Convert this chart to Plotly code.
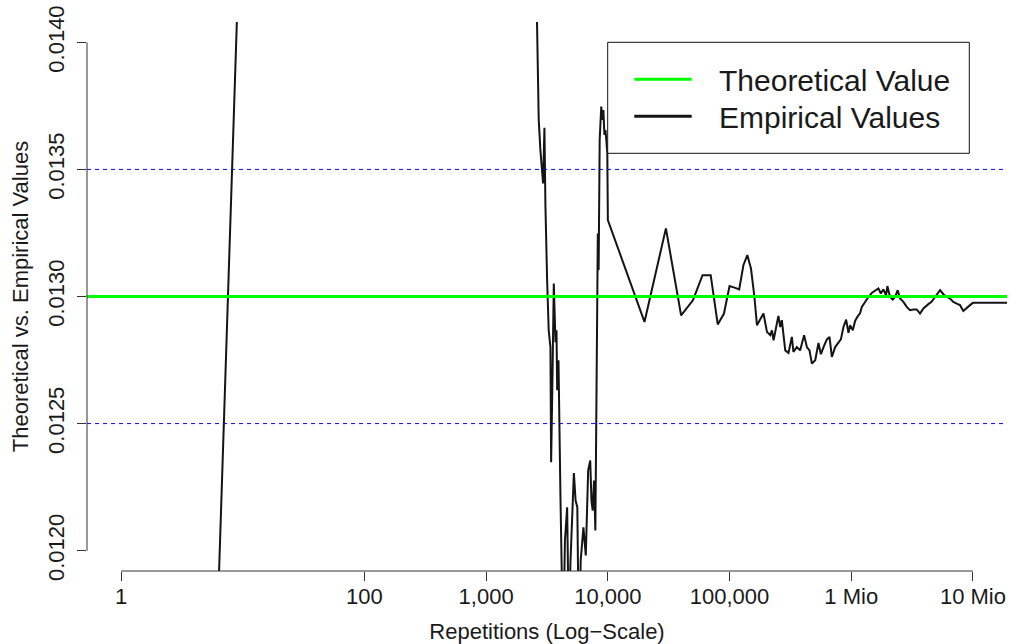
import plotly.graph_objects as go
import math

# ---------------- data ----------------
reps = [1, 100, 200, 500, 1000, 2000, 2500, 2600,
        2704, 2791, 2883, 2938, 3012, 3070, 3170, 3265, 3374, 3419, 3505, 3596,
        3713, 3784, 3834, 3930, 4080, 4292, 4440, 4630, 4775, 4935, 5258, 5432,
        5612, 5789, 5982, 6300, 6587, 6890, 7165, 7333, 7505, 7698, 7895, 8272,
        8402, 8568, 8827, 9006, 9188, 9375, 9568, 9750, 9900,
        10000, 20000, 30000, 40000, 50000, 60000, 70000, 80000, 90000, 100000,
        110000, 120000, 130000, 140000, 150000, 160000, 168000, 190000, 203000,
        216000, 223000, 230000, 252000, 261000, 269000, 287000, 305000, 325000,
        335000, 357000, 380000, 410000, 432000, 454000, 475000, 506000, 538000,
        563000, 600000, 631000, 663000, 693000, 738000, 786000, 822000, 863000,
        908000, 949000, 979000, 1030000, 1076000, 1124000, 1183000, 1222000,
        1300000, 1384000, 1475000, 1571000, 1672000, 1750000, 1838000, 1933000,
        1982000, 2084000, 2193000, 2291000, 2410000, 2518000, 2684000, 2858000,
        3043000, 3243000, 3451000, 3675000, 3917000, 4305000, 4571000, 4884000,
        5370000, 5715000, 6095000, 6486000, 6902000, 7362000, 7834000, 8337000,
        8892000, 9462000, 10000000, 20000000]

empirical = [0.0, 0.0296, 0.0245, 0.0205, 0.0185, 0.0165, 0.0152, 0.01416,
             0.013695, 0.013576, 0.013511, 0.013445, 0.013664, 0.013356, 0.013064,
             0.012867, 0.012801, 0.012348, 0.01267, 0.013051, 0.01282, 0.012867,
             0.012631, 0.012749, 0.01221, 0.0116, 0.01204, 0.012171, 0.0117,
             0.011961, 0.012305, 0.012197, 0.012171, 0.0116, 0.011961, 0.012092,
             0.011981, 0.012316, 0.012355, 0.012197, 0.012158, 0.012276, 0.012079,
             0.013248, 0.013104, 0.013616, 0.013747, 0.013695, 0.013734, 0.013636,
             0.013655, 0.013576, 0.013563,
             0.013301, 0.0129, 0.013268, 0.012926, 0.012985, 0.013084, 0.013084,
             0.01289, 0.012933, 0.013041, 0.013035, 0.013028, 0.013123, 0.013163,
             0.01311, 0.013, 0.012887, 0.012933, 0.012861, 0.012848, 0.012867,
             0.012828, 0.012924, 0.01288, 0.012907, 0.012788, 0.012778, 0.012841,
             0.012782, 0.012801, 0.012788, 0.012848, 0.012801, 0.012788, 0.012736,
             0.012749, 0.012817, 0.012773, 0.012808, 0.012831, 0.012841, 0.012762,
             0.012801, 0.012817, 0.012831, 0.01288, 0.012909, 0.012857, 0.012887,
             0.012867, 0.012904, 0.01292, 0.012935, 0.012959, 0.012979, 0.012998,
             0.013014, 0.013025, 0.013032, 0.013012, 0.013028, 0.013005, 0.013041,
             0.012998, 0.012988, 0.012998, 0.013025, 0.012992, 0.012979, 0.012959,
             0.012946, 0.012949, 0.012949, 0.012933, 0.012953, 0.01297, 0.012979,
             0.012998, 0.013025, 0.013009, 0.012998, 0.012992, 0.012979, 0.012972,
             0.012966, 0.012943, 0.012953, 0.012966, 0.012975, 0.012975]

theoretical_value = 0.013
reference_bands = [0.0125, 0.0135]

x_tick_vals = [1, 100, 1000, 10000, 100000, 1000000, 10000000]
x_tick_text = ["1", "100", "1,000", "10,000", "100,000", "1 Mio", "10 Mio"]
y_tick_vals = [0.0120, 0.0125, 0.0130, 0.0135, 0.0140]
y_tick_text = ["0.0120", "0.0125", "0.0130", "0.0135", "0.0140"]

legend_labels = ["Theoretical Value", "Empirical Values"]
x_title = "Repetitions (Log\u2212Scale)"
y_title = "Theoretical vs. Empirical Values"

# ---------------- figure ----------------
FONT = "Liberation Sans, Arial, Helvetica, sans-serif"
TXT = "#1a1a1a"
xr = [-0.28, 7.28]
yr = [0.01192, 0.01408]

fig = go.Figure()
fig.add_trace(go.Scatter(x=reps, y=empirical, mode="lines",
                         line=dict(color="#141414", width=2),
                         name=legend_labels[1], showlegend=False,
                         hoverinfo="x+y"))

for b in reference_bands:
    fig.add_hline(y=b, line=dict(color="#0000ff", width=1, dash="4px,4px"),
                  layer="above")
fig.add_hline(y=theoretical_value, line=dict(color="#00ff00", width=3),
              layer="above")

def xfrac(v):
    return (math.log10(v) - xr[0]) / (xr[1] - xr[0])

def yfrac(v):
    return (v - yr[0]) / (yr[1] - yr[0])

# R-style axis lines spanning first to last tick only
fig.add_shape(type="line", xref="paper", yref="paper",
              x0=xfrac(x_tick_vals[0]), x1=xfrac(x_tick_vals[-1]), y0=0, y1=0,
              line=dict(color="#333333", width=1), layer="above")
fig.add_shape(type="line", xref="paper", yref="paper",
              x0=0, x1=0, y0=yfrac(y_tick_vals[0]), y1=yfrac(y_tick_vals[-1]),
              line=dict(color="#333333", width=1), layer="above")

# legend box (R style)
W, H = 1011, 644
ML, MR, MT, MB = 87, 4, 22, 73
pw, ph = W - ML - MR, H - MT - MB

def px(x):
    return (x - ML) / pw

def py(y):
    return (H - MB - y) / ph

fig.add_shape(type="rect", xref="paper", yref="paper",
              x0=px(607.7), x1=px(969.3), y0=py(153.3), y1=py(42.3),
              line=dict(color="#111111", width=1), fillcolor="white", layer="above")
legend_colors = ["#00ff00", "#141414"]
legend_rows = [79.3, 116.3]
for lab, col, ry in zip(legend_labels, legend_colors, legend_rows):
    fig.add_shape(type="line", xref="paper", yref="paper",
                  x0=px(634.3), x1=px(691.7), y0=py(ry), y1=py(ry),
                  line=dict(color=col, width=3), layer="above")
    fig.add_annotation(xref="paper", yref="paper", x=px(716.5), y=py(ry + 1),
                       text=lab, showarrow=False, xanchor="left", yanchor="middle",
                       font=dict(family=FONT, size=30, color=TXT))

fig.update_layout(
    width=W, height=H,
    margin=dict(l=ML, r=MR, t=MT, b=MB),
    plot_bgcolor="white", paper_bgcolor="white",
    showlegend=False,
    font=dict(family=FONT, size=22, color=TXT),
)
fig.update_xaxes(type="log", range=xr, tickvals=x_tick_vals, ticktext=x_tick_text,
                 ticks="outside", ticklen=9, tickwidth=1, tickcolor="#333333",
                 ticklabelstandoff=-3,
                 showgrid=False, zeroline=False, showline=False,
                 tickfont=dict(family=FONT, size=22, color=TXT),
                 title=dict(text=x_title, font=dict(family=FONT, size=22, color=TXT),
                            standoff=15))
fig.update_yaxes(range=yr, tickvals=y_tick_vals, ticktext=y_tick_text,
                 tickangle=-90,
                 ticks="outside", ticklen=9, tickwidth=1, tickcolor="#333333",
                 ticklabelstandoff=4,
                 showgrid=False, zeroline=False, showline=False,
                 tickfont=dict(family=FONT, size=22, color=TXT),
                 title=dict(text=y_title, font=dict(family=FONT, size=22, color=TXT),
                            standoff=9))

fig.write_html("out.html", config={"displayModeBar": False},
               post_script="document.body.style.margin='0';")
